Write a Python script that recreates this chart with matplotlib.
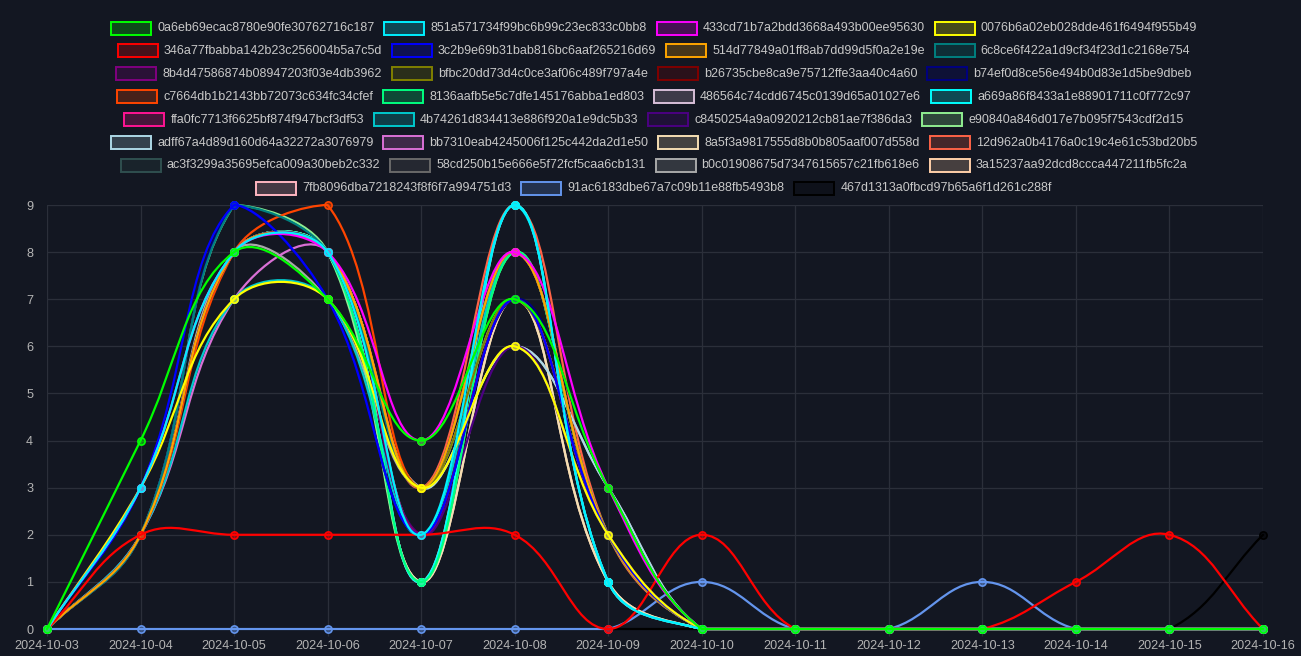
import matplotlib
matplotlib.use('Agg')
import matplotlib.pyplot as plt
from matplotlib.path import Path
from matplotlib.patches import PathPatch, Rectangle
import numpy as np

plt.rcParams['font.family'] = ['Liberation Sans', 'DejaVu Sans']

# ---- data ----
dates = ['2024-10-03', '2024-10-04', '2024-10-05', '2024-10-06', '2024-10-07',
         '2024-10-08', '2024-10-09', '2024-10-10', '2024-10-11', '2024-10-12',
         '2024-10-13', '2024-10-14', '2024-10-15', '2024-10-16']

series_ids = [
    '0a6eb69ecac8780e90fe30762716c187', '851a571734f99bc6b99c23ec833c0bb8',
    '433cd71b7a2bdd3668a493b00ee95630', '0076b6a02eb028dde461f6494f955b49',
    '346a77fbabba142b23c256004b5a7c5d', '3c2b9e69b31bab816bc6aaf265216d69',
    '514d77849a01ff8ab7dd99d5f0a2e19e', '6c8ce6f422a1d9cf34f23d1c2168e754',
    '8b4d47586874b08947203f03e4db3962', 'bfbc20dd73d4c0ce3af06c489f797a4e',
    'b26735cbe8ca9e75712ffe3aa40c4a60', 'b74ef0d8ce56e494b0d83e1d5be9dbeb',
    'c7664db1b2143bb72073c634fc34cfef', '8136aafb5e5c7dfe145176abba1ed803',
    '486564c74cdd6745c0139d65a01027e6', 'a669a86f8433a1e88901711c0f772c97',
    'ffa0fc7713f6625bf874f947bcf3df53', '4b74261d834413e886f920a1e9dc5b33',
    'c8450254a9a0920212cb81ae7f386da3', 'e90840a846d017e7b095f7543cdf2d15',
    'adff67a4d89d160d64a32272a3076979', 'bb7310eab4245006f125c442da2d1e50',
    '8a5f3a9817555d8b0b805aaf007d558d', '12d962a0b4176a0c19c4e61c53bd20b5',
    'ac3f3299a35695efca009a30beb2c332', '58cd250b15e666e5f72fcf5caa6cb131',
    'b0c01908675d7347615657c21fb618e6', '3a15237aa92dcd8ccca447211fb5fc2a',
    '7fb8096dba7218243f8f6f7a994751d3', '91ac6183dbe67a7c09b11e88fb5493b8',
    '467d1313a0fbcd97b65a6f1d261c288f',
]

series_colors = [
    '#00ff00', '#00f0ff', '#ff00ff', '#ffff00', '#ff0000', '#0000ff',
    '#ffa500', '#008080', '#800080', '#808000', '#800000', '#000080',
    '#ff4500', '#00ff7f', '#d8bfd8', '#00ffff', '#ff1493', '#00c8cc',
    '#4b0082', '#90ee90', '#add8e6', '#da70d6', '#f5deb3', '#ff6347',
    '#2f4f4f', '#696969', '#a9a9a9', '#ffcfa8', '#ffb6c1', '#6495ed',
    '#000000',
]

s_0a6eb69 = [0, 4, 8, 7, 4, 7, 3, 0, 0, 0, 0, 0, 0, 0]
s_851a571 = [0, 3, 8, 8, 2, 9, 1, 0, 0, 0, 0, 0, 0, 0]
s_433cd71 = [0, 3, 8, 8, 4, 8, 3, 0, 0, 0, 0, 0, 0, 0]
s_0076b6a = [0, 3, 7, 7, 3, 6, 2, 0, 0, 0, 0, 0, 0, 0]
s_346a77f = [0, 2, 2, 2, 2, 2, 0, 2, 0, 0, 0, 1, 2, 0]
s_3c2b9e6 = [0, 3, 9, 7, 2, 7, 2, 0, 0, 0, 0, 0, 0, 0]
s_514d778 = [0, 2, 8, 8, 3, 8, 2, 0, 0, 0, 0, 0, 0, 0]
s_6c8ce6f = [0, 2, 9, 8, 3, 8, 2, 0, 0, 0, 0, 0, 0, 0]
s_8b4d475 = [0, 2, 8, 8, 2, 7, 2, 0, 0, 0, 0, 0, 0, 0]
s_bfbc20d = [0, 2, 8, 8, 3, 7, 2, 0, 0, 0, 0, 0, 0, 0]
s_b26735c = [0, 2, 8, 8, 2, 7, 2, 0, 0, 0, 0, 0, 0, 0]
s_b74ef0d = [0, 2, 9, 7, 2, 7, 3, 0, 0, 0, 0, 0, 0, 0]
s_c7664db = [0, 2, 8, 9, 3, 8, 2, 0, 0, 0, 0, 0, 0, 0]
s_8136aaf = [0, 2, 8, 8, 1, 8, 2, 0, 0, 0, 0, 0, 0, 0]
s_486564c = [0, 2, 8, 8, 3, 7, 2, 0, 0, 0, 0, 0, 0, 0]
s_a669a86 = [0, 2, 8, 8, 1, 9, 1, 0, 0, 0, 0, 0, 0, 0]
s_ffa0fc7 = [0, 2, 8, 8, 3, 8, 2, 0, 0, 0, 0, 0, 0, 0]
s_4b74261 = [0, 2, 7, 7, 2, 8, 2, 0, 0, 0, 0, 0, 0, 0]
s_c845025 = [0, 2, 8, 8, 2, 6, 2, 0, 0, 0, 0, 0, 0, 0]
s_e90840a = [0, 2, 9, 8, 1, 8, 2, 0, 0, 0, 0, 0, 0, 0]
s_adff67a = [0, 2, 8, 8, 3, 6, 3, 0, 0, 0, 0, 0, 0, 0]
s_bb7310e = [0, 2, 7, 8, 2, 7, 2, 0, 0, 0, 0, 0, 0, 0]
s_8a5f3a9 = [0, 2, 8, 8, 1, 7, 1, 0, 0, 0, 0, 0, 0, 0]
s_12d962a = [0, 2, 8, 8, 3, 9, 2, 0, 0, 0, 0, 0, 0, 0]
s_ac3f329 = [0, 2, 8, 8, 2, 8, 2, 0, 0, 0, 0, 0, 0, 0]
s_58cd250 = [0, 2, 8, 8, 3, 6, 2, 0, 0, 0, 0, 0, 0, 0]
s_b0c0190 = [0, 2, 8, 7, 3, 6, 3, 0, 0, 0, 0, 0, 0, 0]
s_3a15237 = [0, 2, 8, 8, 1, 7, 1, 0, 0, 0, 0, 0, 0, 0]
s_7fb8096 = [0, 2, 8, 8, 1, 9, 1, 0, 0, 0, 0, 0, 0, 0]
s_91ac618 = [0, 0, 0, 0, 0, 0, 0, 1, 0, 0, 1, 0, 0, 0]
s_467d131 = [0, 0, 0, 0, 0, 0, 0, 0, 0, 0, 0, 0, 0, 2]

series_values = [
    s_0a6eb69, s_851a571, s_433cd71, s_0076b6a, s_346a77f, s_3c2b9e6,
    s_514d778, s_6c8ce6f, s_8b4d475, s_bfbc20d, s_b26735c, s_b74ef0d,
    s_c7664db, s_8136aaf, s_486564c, s_a669a86, s_ffa0fc7, s_4b74261,
    s_c845025, s_e90840a, s_adff67a, s_bb7310e, s_8a5f3a9, s_12d962a,
    s_ac3f329, s_58cd250, s_b0c0190, s_3a15237, s_7fb8096, s_91ac618,
    s_467d131,
]

# ---- layout ----
W, H = 1301, 656
BG = '#131722'
GRID = '#2b2f3a'
AX_L, AX_R, AX_T, AX_B = 47, 1263, 205, 629
YMAX = 9
NX = len(dates) - 1
SX = (AX_R - AX_L) / NX      # px per x unit
SY = (AX_B - AX_T) / YMAX    # px per y unit
TENSION = 0.4


def spline_path(ys):
    # chart.js style spline (tension 0.4), control points capped to the chart area
    px = np.arange(len(ys)) * SX
    py = np.asarray(ys, float) * SY
    n = len(px)
    cin, cout = [], []
    for i in range(n):
        p0 = (px[i - 1], py[i - 1]) if i > 0 else (px[i], py[i])
        p2 = (px[i + 1], py[i + 1]) if i < n - 1 else (px[i], py[i])
        d01 = np.hypot(px[i] - p0[0], py[i] - p0[1])
        d12 = np.hypot(p2[0] - px[i], p2[1] - py[i])
        tot = d01 + d12
        fa = TENSION * (d01 / tot if tot else 0)
        fb = TENSION * (d12 / tot if tot else 0)
        dx, dy = p2[0] - p0[0], p2[1] - p0[1]
        a = (np.clip(px[i] - fa * dx, 0, NX * SX), np.clip(py[i] - fa * dy, 0, YMAX * SY))
        b = (np.clip(px[i] + fb * dx, 0, NX * SX), np.clip(py[i] + fb * dy, 0, YMAX * SY))
        cin.append(a)
        cout.append(b)
    verts = [(px[0], py[0])]
    codes = [Path.MOVETO]
    for i in range(n - 1):
        verts += [cout[i], cin[i + 1], (px[i + 1], py[i + 1])]
        codes += [Path.CURVE4] * 3
    verts = [(x / SX, y / SY) for x, y in verts]
    return Path(verts, codes)


fig = plt.figure(figsize=(W / 100, H / 100), dpi=100, facecolor=BG)
ax = fig.add_axes([AX_L / W, 1 - AX_B / H, (AX_R - AX_L) / W, (AX_B - AX_T) / H])
ax.set_facecolor(BG)

x = np.arange(len(dates))
n_series = len(series_values)
for i, (vals, col) in enumerate(zip(series_values, series_colors)):
    z = 10 + (n_series - i) * 2
    patch = PathPatch(spline_path(vals), facecolor='none', edgecolor=col,
                      lw=1.6, zorder=z, clip_on=False, capstyle='round', joinstyle='round')
    ax.add_patch(patch)
    ax.plot(x, vals, 'o', ms=5.2, mfc=matplotlib.colors.to_rgba(col, 0.5), mec=col,
            mew=1.2, zorder=z + 1, clip_on=False, ls='none')

ax.set_xlim(0, NX)
ax.set_ylim(0, YMAX)
ax.set_xticks(x)
ax.set_xticklabels(dates)
ax.set_yticks(range(0, YMAX + 1))
ax.grid(True, color=GRID, lw=0.9)
ax.set_axisbelow(True)
for sp in ax.spines.values():
    sp.set_visible(False)
ax.tick_params(axis='x', colors=GRID, labelcolor='#b4b4b4', labelsize=9.1,
               length=5, width=0.9, pad=3)
ax.tick_params(axis='y', colors=GRID, labelcolor='#b4b4b4', labelsize=9.1,
               length=0, pad=10)

# ---- legend (chart.js style, centered rows) ----
renderer = fig.canvas.get_renderer()
FS = 9.0
BOX_W, BOX_H = 40, 13
GAP, PAD = 6, 10
ROW_Y0, ROW_DY = 28, 22.9
CENTER = 654
per_row = 4
for r, start in enumerate(range(0, n_series, per_row)):
    idxs = list(range(start, min(start + per_row, n_series)))
    texts, widths = [], []
    for i in idxs:
        t = fig.text(0, 0, series_ids[i], fontsize=FS, color='#c8c8c8',
                     ha='left', va='center')
        w = t.get_window_extent(renderer).width
        texts.append(t)
        widths.append(BOX_W + GAP + w)
    row_w = sum(widths) + PAD * (len(idxs) - 1)
    cx = CENTER - row_w / 2
    cy = ROW_Y0 + r * ROW_DY
    for i, t, w in zip(idxs, texts, widths):
        col = series_colors[i]
        rect = Rectangle((cx / W, 1 - (cy + BOX_H / 2) / H), BOX_W / W, BOX_H / H,
                         transform=fig.transFigure, facecolor=matplotlib.colors.to_rgba(col, 0.22),
                         edgecolor=col, lw=1.4)
        fig.patches.append(rect)
        t.set_position(((cx + BOX_W + GAP) / W, 1 - cy / H))
        cx += w + PAD

fig.savefig('out.png', dpi=100, facecolor=BG)
